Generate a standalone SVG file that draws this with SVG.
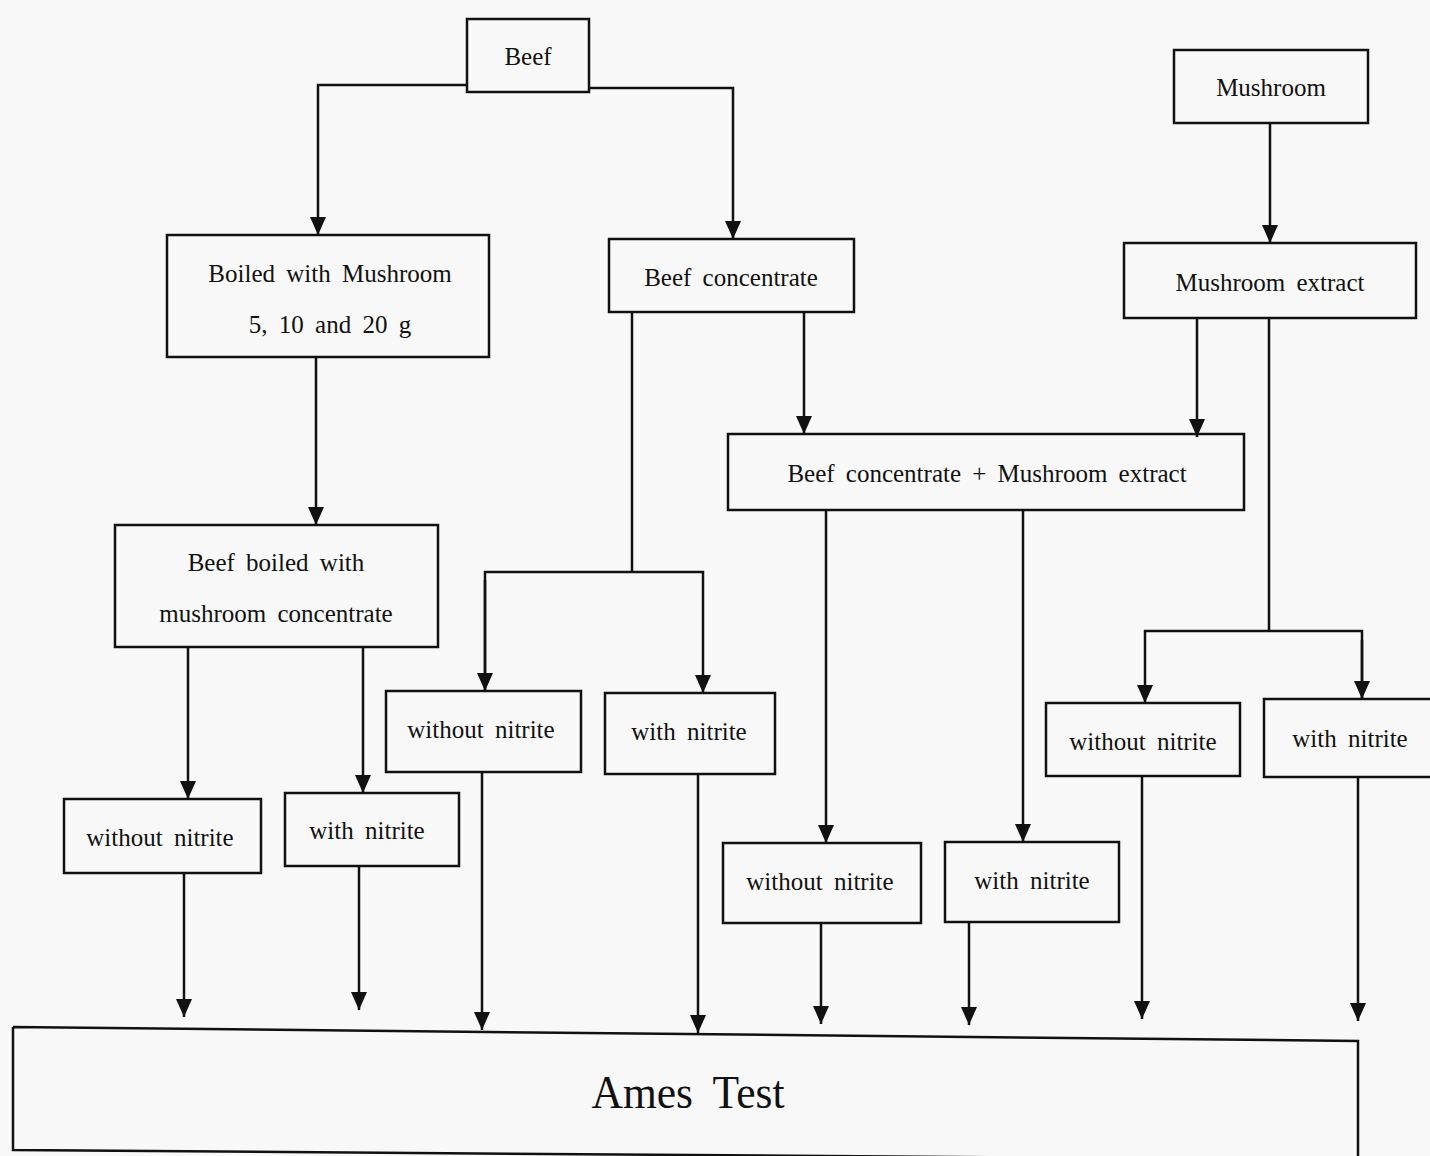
<svg xmlns="http://www.w3.org/2000/svg" width="1430" height="1156" viewBox="0 0 1430 1156">
<defs>
<style>
.box{fill:none;stroke:#111;stroke-width:2.5}
.t{font-family:"Liberation Serif","Times New Roman",serif;font-size:25px;fill:#111;text-anchor:middle;word-spacing:5px}
.c{fill:none;stroke:#111;stroke-width:2.5}
</style>
<marker id="ah" markerUnits="userSpaceOnUse" viewBox="0 0 18 16" markerWidth="18" markerHeight="16" refX="18" refY="8" orient="auto">
<path d="M0,0 L18,8 L0,16 z" fill="#111"/>
</marker>
</defs>
<rect width="1430" height="1156" fill="#f8f8f8"/>
<g id="connectors">
<path class="c" d="M467,85 H318 V235" marker-end="url(#ah)"/>
<path class="c" d="M589,88 H733 V239" marker-end="url(#ah)"/>
<path class="c" d="M1270,123 V243" marker-end="url(#ah)"/>
<path class="c" d="M316,357 V525" marker-end="url(#ah)"/>
<path class="c" d="M804,312 V434" marker-end="url(#ah)"/>
<path class="c" d="M1197,318 V437" marker-end="url(#ah)"/>
<path class="c" d="M632,312 V572"/>
<path class="c" d="M485,691 V572 H703 V693" marker-end="url(#ah)"/>
<path class="c" d="M485,580 V691" marker-end="url(#ah)"/>
<path class="c" d="M1269,318 V631"/>
<path class="c" d="M1362,699 V631 H1145 V703" marker-end="url(#ah)"/>
<path class="c" d="M1362,640 V699" marker-end="url(#ah)"/>
<path class="c" d="M826,510 V843" marker-end="url(#ah)"/>
<path class="c" d="M1023,510 V842" marker-end="url(#ah)"/>
<path class="c" d="M188,647 V799" marker-end="url(#ah)"/>
<path class="c" d="M363,647 V793" marker-end="url(#ah)"/>
<path class="c" d="M184,873 V1017" marker-end="url(#ah)"/>
<path class="c" d="M359,866 V1010" marker-end="url(#ah)"/>
<path class="c" d="M482,772 V1030" marker-end="url(#ah)"/>
<path class="c" d="M698,774 V1033" marker-end="url(#ah)"/>
<path class="c" d="M821,923 V1024" marker-end="url(#ah)"/>
<path class="c" d="M969,922 V1025" marker-end="url(#ah)"/>
<path class="c" d="M1142,776 V1019" marker-end="url(#ah)"/>
<path class="c" d="M1358,777 V1021" marker-end="url(#ah)"/>
</g>
<g id="beef"><rect class="box" x="467" y="19" width="122" height="73"/><text class="t" x="528" y="65">Beef</text></g>
<g id="mushroom"><rect class="box" x="1174" y="50" width="194" height="73"/><text class="t" x="1271" y="96">Mushroom</text></g>
<g id="boiled"><rect class="box" x="167" y="235" width="322" height="122"/><text class="t" x="330" y="282">Boiled with Mushroom</text><text class="t" x="330" y="333">5, 10 and 20 g</text></g>
<g id="beef-concentrate"><rect class="box" x="609" y="239" width="245" height="73"/><text class="t" x="731" y="286">Beef concentrate</text></g>
<g id="mushroom-extract"><rect class="box" x="1124" y="243" width="292" height="75"/><text class="t" x="1270" y="291">Mushroom extract</text></g>
<g id="combined"><rect class="box" x="728" y="434" width="516" height="76"/><text class="t" x="987" y="482">Beef concentrate + Mushroom extract</text></g>
<g id="beef-boiled"><rect class="box" x="115" y="525" width="323" height="122"/><text class="t" x="276" y="571">Beef boiled with</text><text class="t" x="276" y="622">mushroom concentrate</text></g>
<g id="bb-without"><rect class="box" x="64" y="799" width="197" height="74"/><text class="t" x="160" y="846">without nitrite</text></g>
<g id="bb-with"><rect class="box" x="285" y="793" width="174" height="73"/><text class="t" x="367" y="839">with nitrite</text></g>
<g id="bc-without"><rect class="box" x="386" y="691" width="195" height="81"/><text class="t" x="481" y="738">without nitrite</text></g>
<g id="bc-with"><rect class="box" x="605" y="693" width="170" height="81"/><text class="t" x="689" y="740">with nitrite</text></g>
<g id="cm-without"><rect class="box" x="723" y="843" width="198" height="80"/><text class="t" x="820" y="890">without nitrite</text></g>
<g id="cm-with"><rect class="box" x="945" y="842" width="174" height="80"/><text class="t" x="1032" y="889">with nitrite</text></g>
<g id="me-without"><rect class="box" x="1046" y="703" width="194" height="73"/><text class="t" x="1143" y="750">without nitrite</text></g>
<g id="me-with"><rect class="box" x="1264" y="699" width="170" height="78"/><text class="t" x="1350" y="747">with nitrite</text></g>
<g id="ames"><path class="box" d="M13,1027 L1358,1041 V1160 M13,1027 V1150 L1358,1160"/><text class="t" x="688" y="1108" textLength="193" lengthAdjust="spacingAndGlyphs" style="font-size:46px;word-spacing:10px">Ames Test</text></g>
</svg>
